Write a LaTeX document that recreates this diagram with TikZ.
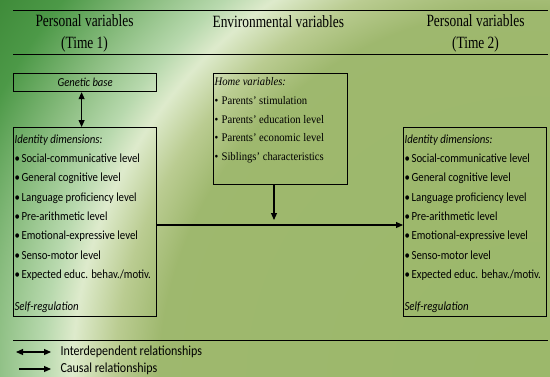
\documentclass[tikz,border=0pt]{standalone}
\usepackage{fontspec}
\setmainfont{Liberation Serif}
\newfontfamily\carl{Carlito}[FakeStretch=0.87]
\newfontfamily\headfont{Liberation Serif}[FakeStretch=0.78, Ligatures=TeX]
\newfontfamily\homefont{Liberation Serif}[FakeStretch=0.92, Ligatures=TeX]
\usetikzlibrary{arrows.meta}

\pgfdeclareradialshading{fieldglow}{\pgfpoint{0bp}{0bp}}{rgb(0bp)=(0.61,0.72,0.42); rgb(17.5bp)=(0.62,0.72,0.43); rgb(19.6bp)=(0.73,0.80,0.57); rgb(21.6bp)=(0.87,0.92,0.80); rgb(23bp)=(0.72,0.85,0.68); rgb(25.4bp)=(0.54,0.74,0.50); rgb(28.4bp)=(0.30,0.60,0.28); rgb(31bp)=(0.24,0.54,0.22); rgb(50bp)=(0.22,0.52,0.21)}

\newcommand\blt{\makebox[7pt][l]{\textbullet}}
\newcommand\idlist{%
  \begin{minipage}[t][181pt][t]{141pt}\carl\fontsize{12.4}{19.3}\selectfont
    \vspace*{3pt}\textit{Identity dimensions:}\\
    \blt Social-communicative level\\
    \blt General cognitive level\\
    \blt Language proficiency level\\
    \blt Pre-arithmetic level\\
    \blt Emotional-expressive level\\
    \blt Senso-motor level\\
    \blt Expected educ. behav./motiv.\par
    \vfill
    \textit{Self-regulation}
  \end{minipage}}

\begin{document}
\begin{tikzpicture}[x=1pt, y=-1pt, >={Triangle[length=7pt,width=6pt]},
    frame/.style={draw, line width=1.2pt, inner xsep=1pt, inner ysep=4pt, anchor=north west},
    head/.style={font=\headfont\fontsize{17.2}{22}\selectfont, align=center},
    legtext/.style={font=\carl\fontsize{13.8}{14}\selectfont, anchor=west},
    rule/.style={line width=1pt},
    link/.style={line width=1.1pt}]

            \useasboundingbox (0,0) rectangle (550,376);
            \begin{scope}
                \clip (0,0) rectangle (550,376);
                \shade[shading=fieldglow] (0,-150) rectangle (1060,910);
            \end{scope}

            % column heads
            \draw[rule] (13,10) -- (548,10);
            \node[head] (headL) at (84.5,33) { Personal variables\\(Time 1) };
            \node[head] (headM) at (280,22) { Environmental variables };
            \node[head] (headR) at (475.5,33) { Personal variables\\(Time 2) };
            \draw[rule] (13,54) -- (548,54);

            % boxes
            \node[frame, minimum width=143pt, minimum height=18pt, inner sep=0pt, font=\carl\itshape\fontsize{12.2}{12}\selectfont] (gen) at (13,73) { Genetic base };
            \node[frame] (idL) at (13,127) { \idlist };
            \node[frame] (home) at (213,73) {%
                \begin{minipage}[t][103pt][t]{132pt}\homefont\fontsize{11.6}{18.75}\selectfont
                    \textit{Home variables:}\\
                    \blt Parents' stimulation\\
                    \blt Parents' education level\\
                    \blt Parents' economic level\\
                    \blt Siblings' characteristics
                \end{minipage}};
            \node[frame] (idR) at (403,127) { \idlist };

            \coordinate (meet) at (274,225);
            \coordinate (drop) at (274,220);

            \draw[<->, link] ([xshift=-3.5pt]gen.south) -- ([xshift=-3.5pt]idL.north);
            \draw[->, link] (home.south -| drop) -- (drop);
            \draw[->, link] (idL.east |- meet) -- (idR.west |- meet);

            % legend
            \draw[rule] (13,340) -- (548,340);
            \coordinate (legA) at (16,352);
            \coordinate (legB) at (51,352);
            \coordinate (legC) at (19,369);
            \coordinate (legD) at (51,369);
            \draw[<->, link] (legA) -- (legB);
            \draw[->, link] (legC) -- (legD);
            \node[legtext] (legInter) at (57,352) { Interdependent relationships };
            \node[legtext] (legCause) at (57,369) { Causal relationships };

        \end{tikzpicture}
\end{document}
